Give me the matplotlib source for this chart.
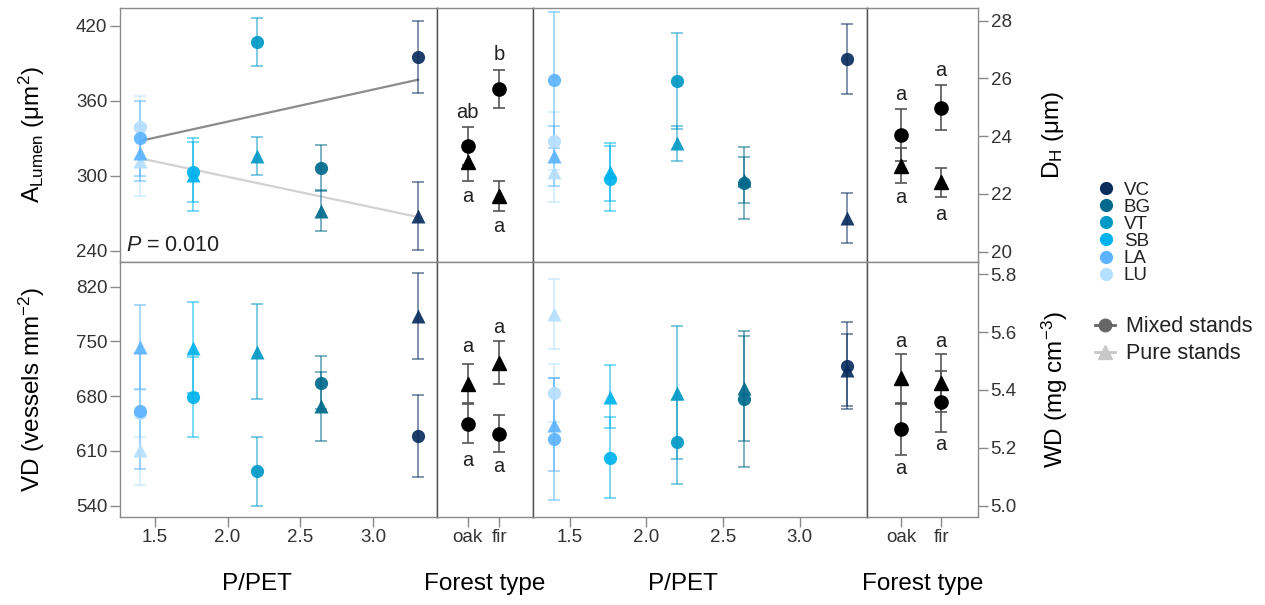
import matplotlib
matplotlib.use("Agg")
import matplotlib.pyplot as plt
from matplotlib.lines import Line2D

plt.rcParams['font.family'] = ['Liberation Sans', 'DejaVu Sans']
plt.rcParams['mathtext.fontset'] = 'custom'
plt.rcParams['mathtext.rm'] = 'Liberation Sans'
plt.rcParams['mathtext.it'] = 'Liberation Sans:italic'
plt.rcParams['text.color'] = '#222222'

# sites, their P/PET and colours
sites = ['VC', 'BG', 'VT', 'SB', 'LA', 'LU']
ppet = [3.31, 2.64, 2.20, 1.76, 1.40, 1.40]
site_colors = ['#0a2d5e', '#00698c', '#0399c6', '#00b3ec', '#5cb3ff', '#b5dfff']

forest = ['oak', 'fir']

# A_Lumen (um2)
alum_mixed = [395, 306, 407, 303, 330, 339]
alum_mixed_err = [29, 18.5, 19, 24, 30, 25]
alum_pure = [268, 272, 316, 301, 318, 312]
alum_pure_err = [27, 16.5, 15, 29, 22, 28]
alum_fit_x = [1.40, 3.31]
alum_fit_mixed = [328, 377]
alum_fit_pure = [314, 267]
alum_forest_mixed = [324, 369.6]
alum_forest_mixed_err = [15, 15]
alum_forest_pure = [311, 284]
alum_forest_pure_err = [15, 12]
alum_letters_top = ['ab', 'b']
alum_letters_top_y = [351, 397]
alum_letters_bot = ['a', 'a']
alum_letters_bot_y = [283.5, 259.5]

# D_H (um)
dh_mixed = [26.67, 22.37, 25.92, 22.52, 25.95, 23.83]
dh_mixed_err = [1.22, 1.25, 1.66, 1.13, 2.35, 1.0]
dh_pure = [21.16, 22.48, 23.75, 22.77, 23.31, 22.77]
dh_pure_err = [0.87, 0.8, 0.6, 1.0, 1.05, 1.05]
dh_forest_mixed = [24.04, 24.99]
dh_forest_mixed_err = [0.9, 0.77]
dh_forest_pure = [22.98, 22.40]
dh_forest_pure_err = [0.6, 0.5]
dh_letters_top = ['a', 'a']
dh_letters_top_y = [25.46, 26.29]
dh_letters_bot = ['a', 'a']
dh_letters_bot_y = [21.88, 21.30]

# VD (vessels mm-2)
vd_mixed = [629, 697, 584, 679, 661, 658]
vd_mixed_err = [52, 34, 44, 51, 74, 30]
vd_pure = [782, 667, 737, 742, 743, 611]
vd_pure_err = [55, 44, 61, 58, 54, 45]
vd_forest_mixed = [645, 632]
vd_forest_mixed_err = [25, 24]
vd_forest_pure = [696, 723]
vd_forest_pure_err = [25, 27]
vd_letters_top = ['a', 'a']
vd_letters_top_y = [743, 768]
vd_letters_bot = ['a', 'a']
vd_letters_bot_y = [598, 590]

# WD (mg cm-3)
wd_mixed = [5.483, 5.37, 5.22, 5.166, 5.23, 5.39]
wd_mixed_err = [0.15, 0.235, 0.145, 0.14, 0.21, 0.10]
wd_pure = [5.469, 5.405, 5.39, 5.377, 5.28, 5.663]
wd_pure_err = [0.125, 0.18, 0.23, 0.11, 0.16, 0.12]
wd_forest_mixed = [5.264, 5.36]
wd_forest_mixed_err = [0.088, 0.104]
wd_forest_pure = [5.44, 5.423]
wd_forest_pure_err = [0.085, 0.1]
wd_letters_top = ['a', 'a']
wd_letters_top_y = [5.569, 5.569]
wd_letters_bot = ['a', 'a']
wd_letters_bot_y = [5.129, 5.212]

TICK_FS = 13.5
LABEL_FS = 17.5
LETTER_FS = 14.5
SPINE = '#8a8a8a'
SEP = '#505050'

fig = plt.figure(figsize=(12.65, 6.05), dpi=100)

cols = [(120, 437), (437, 533), (533, 867), (867, 978)]
rows = [(8, 262), (262, 517)]
W, H = 1265, 605
axes = []
for (y0, y1) in rows:
    row = []
    for (x0, x1) in cols:
        ax = fig.add_axes([x0 / W, 1 - y1 / H, (x1 - x0) / W, (y1 - y0) / H])
        row.append(ax)
    axes.append(row)


def site_panel(ax, mixed, mixed_err, pure, pure_err):
    # lightest sites first so darker ones sit on top
    order = list(range(len(sites)))[::-1]
    for i in order:
        c = site_colors[i]
        ax.errorbar(ppet[i], mixed[i], yerr=mixed_err[i], fmt='none', ecolor=c,
                    elinewidth=1.3, capsize=4.5, capthick=1.3, alpha=0.55, zorder=2)
        ax.errorbar(ppet[i], pure[i], yerr=pure_err[i], fmt='none', ecolor=c,
                    elinewidth=1.3, capsize=4.5, capthick=1.3, alpha=0.55, zorder=2)
    for i in order:
        c = site_colors[i]
        ax.plot(ppet[i], mixed[i], 'o', color=c, ms=9.5, mec='none', alpha=0.92, zorder=3)
        ax.plot(ppet[i], pure[i], '^', color=c, ms=10.5, mec='none', alpha=0.92, zorder=3)
    ax.set_xlim(1.26, 3.44)


def forest_panel(ax, mixed, mixed_err, pure, pure_err, top, top_y, bot, bot_y):
    xs = [1, 2]
    ax.errorbar(xs, mixed, yerr=mixed_err, fmt='none', ecolor='#555555',
                elinewidth=1.2, capsize=4.5, capthick=1.2, zorder=2)
    ax.errorbar(xs, pure, yerr=pure_err, fmt='none', ecolor='#555555',
                elinewidth=1.2, capsize=4.5, capthick=1.2, zorder=2)
    ax.plot(xs, mixed, 'o', color='black', ms=9.5, ls='none', zorder=3)
    ax.plot(xs, pure, '^', color='black', ms=10.5, ls='none', zorder=3)
    for x, t, y in zip(xs, top, top_y):
        ax.text(x, y, t, ha='center', va='center', fontsize=LETTER_FS)
    for x, t, y in zip(xs, bot, bot_y):
        ax.text(x, y, t, ha='center', va='center', fontsize=LETTER_FS)


# top row
site_panel(axes[0][0], alum_mixed, alum_mixed_err, alum_pure, alum_pure_err)
axes[0][0].plot(alum_fit_x, alum_fit_mixed, color='#8c8c8c', lw=1.6, zorder=1)
axes[0][0].plot(alum_fit_x, alum_fit_pure, color='#d2d2d2', lw=1.6, zorder=1)
axes[0][0].text(0.02, 0.025, r'$\mathit{P}$ = 0.010', transform=axes[0][0].transAxes,
                fontsize=15.5, ha='left', va='bottom')
forest_panel(axes[0][1], alum_forest_mixed, alum_forest_mixed_err, alum_forest_pure,
             alum_forest_pure_err, alum_letters_top, alum_letters_top_y,
             alum_letters_bot, alum_letters_bot_y)
site_panel(axes[0][2], dh_mixed, dh_mixed_err, dh_pure, dh_pure_err)
forest_panel(axes[0][3], dh_forest_mixed, dh_forest_mixed_err, dh_forest_pure,
             dh_forest_pure_err, dh_letters_top, dh_letters_top_y,
             dh_letters_bot, dh_letters_bot_y)

# bottom row
site_panel(axes[1][0], vd_mixed, vd_mixed_err, vd_pure, vd_pure_err)
forest_panel(axes[1][1], vd_forest_mixed, vd_forest_mixed_err, vd_forest_pure,
             vd_forest_pure_err, vd_letters_top, vd_letters_top_y,
             vd_letters_bot, vd_letters_bot_y)
site_panel(axes[1][2], wd_mixed, wd_mixed_err, wd_pure, wd_pure_err)
forest_panel(axes[1][3], wd_forest_mixed, wd_forest_mixed_err, wd_forest_pure,
             wd_forest_pure_err, wd_letters_top, wd_letters_top_y,
             wd_letters_bot, wd_letters_bot_y)

ylims = [(231, 434.4), (19.64, 28.44), (525.5, 851.6), (4.961, 5.842)]
for r in range(2):
    lo_left = ylims[2 * r]
    lo_right = ylims[2 * r + 1]
    axes[r][0].set_ylim(*lo_left)
    axes[r][1].set_ylim(*lo_left)
    axes[r][2].set_ylim(*lo_right)
    axes[r][3].set_ylim(*lo_right)
    axes[r][1].set_xlim(0.03, 3.07)
    axes[r][3].set_xlim(0.15, 2.92)

for r in range(2):
    for c in range(4):
        ax = axes[r][c]
        for s in ax.spines.values():
            s.set_color(SPINE)
            s.set_linewidth(1.0)
        if c > 0:
            ax.spines['left'].set_color(SEP)
        if c < 3:
            ax.spines['right'].set_color(SEP)
        ax.tick_params(colors=SPINE, labelcolor='#333333', labelsize=TICK_FS,
                       length=7, width=1.0, pad=2)
        if r == 0:
            ax.set_xticks([])
        if c in (1, 2):
            ax.set_yticks([])
        if c == 3:
            ax.yaxis.tick_right()

axes[0][0].set_yticks([240, 300, 360, 420])
axes[1][0].set_yticks([540, 610, 680, 750, 820])
axes[0][3].set_yticks([20, 22, 24, 26, 28])
axes[1][3].set_yticks([5.0, 5.2, 5.4, 5.6, 5.8])
axes[1][3].set_yticklabels(['5.0', '5.2', '5.4', '5.6', '5.8'])
for c in (0, 2):
    axes[1][c].set_xticks([1.5, 2.0, 2.5, 3.0])
    axes[1][c].set_xticklabels(['1.5', '2.0', '2.5', '3.0'])
for c in (1, 3):
    axes[1][c].set_xticks([1, 2])
    axes[1][c].set_xticklabels(forest)

# axis labels
axes[0][0].set_ylabel(r'A$_{\mathregular{Lumen}}$ (μm$^{2}$)', fontsize=LABEL_FS)
axes[1][0].set_ylabel(r'VD (vessels mm$^{-2}$)', fontsize=LABEL_FS)
axes[0][3].set_ylabel(r'D$_{\mathregular{H}}$ (μm)', fontsize=LABEL_FS)
axes[1][3].set_ylabel(r'WD (mg cm$^{-3}$)', fontsize=LABEL_FS)
axes[0][0].yaxis.set_label_coords(-0.278, 0.5)
axes[1][0].yaxis.set_label_coords(-0.278, 0.5)
axes[0][3].yaxis.set_label_coords(1.676, 0.5)
axes[1][3].yaxis.set_label_coords(1.694, 0.5)
for ax in (axes[0][0], axes[1][0], axes[0][3], axes[1][3]):
    ax.yaxis.label.set_va('center')
    ax.yaxis.label.set_rotation(90)

xlab = ['P/PET', 'Forest type', 'P/PET', 'Forest type']
xlab_x = [0.431, 0.5, 0.449, 0.5]
for c in range(4):
    ax = axes[1][c]
    ax.set_xlabel(xlab[c], fontsize=LABEL_FS)
    ax.xaxis.set_label_coords(xlab_x[c], -0.262)
    ax.xaxis.label.set_va('center')

# legends
site_handles = [Line2D([], [], marker='o', ls='none', color=col, ms=9.5, mec='none')
                for col in site_colors]
fig.legend(site_handles, sites, loc='upper left', bbox_to_anchor=(0.867, 0.700),
           frameon=False, fontsize=13.5, handlelength=1.0, handletextpad=0.45,
           labelspacing=0.0, borderpad=0, borderaxespad=0)

stand_handles = [Line2D([], [], marker='o', color='#666666', ms=9, lw=2),
                 Line2D([], [], marker='^', color='#c8c8c8', ms=10, lw=2)]
fig.legend(stand_handles, ['Mixed stands', 'Pure stands'], loc='upper left',
           bbox_to_anchor=(0.8656, 0.4775), frameon=False, fontsize=15.5,
           handlelength=0.95, handletextpad=0.5, labelspacing=0.28,
           borderpad=0, borderaxespad=0)

fig.savefig('out.png', dpi=100)
